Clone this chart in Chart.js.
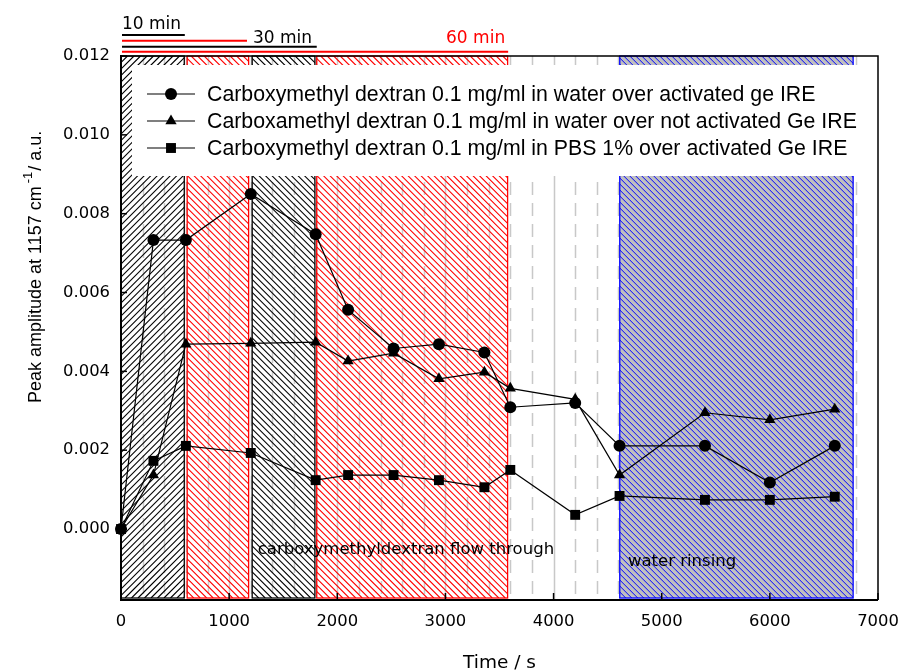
<!DOCTYPE html>
<html><head><meta charset="utf-8">
<script src="https://cdn.jsdelivr.net/npm/chart.js@4/dist/chart.umd.min.js"></script>
<style>html,body{margin:0;padding:0;background:#fff;}#wrap{width:901px;height:671px;}</style>
</head><body><div id="wrap"><canvas id="c" width="901" height="671"></canvas></div>
<script>
// ---- data ----
const timeS = [0, 300, 600, 1200, 1800, 2100, 2520, 2940, 3360, 3600, 4200, 4610, 5400, 6000, 6600];
const activatedWater = [0, 0.00733, 0.00733, 0.00850, 0.00748, 0.00556, 0.00458, 0.00469, 0.00448, 0.00309, 0.00320, 0.00211, 0.00211, 0.00118, 0.00211];
const notActivatedWater = [0, 0.00137, 0.00469, 0.00471, 0.00474, 0.00426, 0.00446, 0.00381, 0.00398, 0.00357, 0.00329, 0.00137, 0.00295, 0.00277, 0.00304];
const activatedPBS = [0, 0.00173, 0.00211, 0.00193, 0.00124, 0.00137, 0.00137, 0.00124, 0.00106, 0.00150, 0.00036, 0.00084, 0.00074, 0.00074, 0.00082];
const seriesNames = [
  'Carboxymethyl dextran 0.1 mg/ml in water over activated ge IRE',
  'Carboxamethyl dextran 0.1 mg/ml in water over not activated Ge IRE',
  'Carboxymethyl dextran 0.1 mg/ml in PBS 1% over activated Ge IRE'
];
const xTicks = [0, 1000, 2000, 3000, 4000, 5000, 6000, 7000];
const yTicks = [0, 0.002, 0.004, 0.006, 0.008, 0.010, 0.012];
const phaseStart = [0, 612, 1213, 1810, 4612];
const phaseEnd = [585, 1180, 1793, 3575, 6770];
const durationLabels = ['10 min', '', '30 min', '60 min'];
const durationEnd = [590, 1165, 1810, 3580];
const phaseLabels = ['carboxymethyldextran flow through', 'water rinsing'];
const xTitle = 'Time / s';
const yTitleMain = 'Peak amplitude at 1157 cm';
const yTitleSup = '-1';
const yTitleTail = '/ a.u.';

// ---- styles ----
const X_MIN = 0, X_MAX = 7000, Y_MIN = -0.0018, Y_MAX = 0.012;
const GRID_STEP = 200;
const phaseStyle = [
  {color: '#000000', dir: '/', step: 6.5, lw: 1.2, fill: null},
  {color: '#ff0000', dir: '\\', step: 6.5, lw: 1.1, fill: null},
  {color: '#000000', dir: '\\', step: 6.5, lw: 1.1, fill: null},
  {color: '#ff0000', dir: '\\', step: 6.5, lw: 1.1, fill: null},
  {color: '#0000ff', dir: '\\', step: 6, lw: 1.0, fill: '#c0c0c0'}
];
const durationStyle = [
  {color: '#000', y: 35},
  {color: '#ff0000', y: 40.7},
  {color: '#000', y: 46.7},
  {color: '#ff0000', y: 51.7}
];
const markerStyles = [
  {pointStyle: 'circle', radius: 6},
  {pointStyle: 'triangle', radius: 6.5},
  {pointStyle: 'rect', radius: 7}
];
const FONT_DV = '"DejaVu Sans", sans-serif';
const FONT_LS = '"Liberation Sans", Arial, sans-serif';

function drawMarker(ctx, style, r, x, y) {
  ctx.beginPath();
  if (style === 'circle') {
    ctx.arc(x, y, r, 0, Math.PI * 2);
  } else if (style === 'triangle') {
    ctx.moveTo(x, y - r);
    ctx.lineTo(x + Math.sin(2 * Math.PI / 3) * r, y - Math.cos(2 * Math.PI / 3) * r);
    ctx.lineTo(x + Math.sin(4 * Math.PI / 3) * r, y - Math.cos(4 * Math.PI / 3) * r);
    ctx.closePath();
  } else {
    const s = r * Math.SQRT1_2;
    ctx.rect(x - s, y - s, 2 * s, 2 * s);
  }
  ctx.fill();
}

function hatch(ctx, x0, y0, x1, y1, st) {
  ctx.save();
  ctx.beginPath(); ctx.rect(x0, y0, x1 - x0, y1 - y0); ctx.clip();
  if (st.fill) { ctx.fillStyle = st.fill; ctx.fillRect(x0, y0, x1 - x0, y1 - y0); }
  ctx.strokeStyle = st.color; ctx.lineWidth = st.lw;
  ctx.beginPath();
  const h = y1 - y0;
  for (let x = x0 - h - st.step; x < x1 + st.step; x += st.step) {
    if (st.dir === '/') { ctx.moveTo(x, y1); ctx.lineTo(x + h, y0); }
    else { ctx.moveTo(x, y0); ctx.lineTo(x + h, y1); }
  }
  ctx.stroke();
  ctx.restore();
  ctx.save();
  ctx.strokeStyle = st.color; ctx.lineWidth = 1.3;
  ctx.strokeRect(x0, y0, x1 - x0, y1 - y0);
  ctx.restore();
}

const decorPlugin = {
  id: 'decor',
  beforeDatasetsDraw(chart) {
    const ctx = chart.ctx, xs = chart.scales.x, ys = chart.scales.y, a = chart.chartArea;
    const top = ys.getPixelForValue(Y_MAX), bot = ys.getPixelForValue(Y_MIN);
    // grey vertical lines
    ctx.save();
    ctx.strokeStyle = '#c8c8c8'; ctx.lineWidth = 1.5;
    for (let t = GRID_STEP; t < X_MAX; t += GRID_STEP) {
      const px = Math.round(xs.getPixelForValue(t)) + 0.5;
      ctx.setLineDash(t % 1000 === 0 ? [] : [13, 8]);
      ctx.beginPath(); ctx.moveTo(px, top); ctx.lineTo(px, bot); ctx.stroke();
    }
    ctx.restore();
    // hatched phases
    phaseStart.forEach((s, i) => {
      hatch(ctx, xs.getPixelForValue(s), top, xs.getPixelForValue(phaseEnd[i]), bot - 2, phaseStyle[i]);
    });
    // legend box
    ctx.save();
    ctx.fillStyle = '#fff';
    ctx.fillRect(132, 65, a.right - 132, 111);
    const rows = [94, 121, 148];
    ctx.strokeStyle = '#000'; ctx.fillStyle = '#000'; ctx.lineWidth = 1.2;
    ctx.font = '21.3px ' + FONT_LS; ctx.textBaseline = 'middle';
    seriesNames.forEach((n, i) => {
      ctx.beginPath(); ctx.moveTo(147, rows[i]); ctx.lineTo(195, rows[i]); ctx.stroke();
      drawMarker(ctx, markerStyles[i].pointStyle, markerStyles[i].radius, 171, rows[i]);
      ctx.fillText(n, 207, rows[i] + 1);
    });
    ctx.restore();
    // frame
    ctx.save();
    ctx.strokeStyle = '#000';
    ctx.lineWidth = 1.5;
    ctx.beginPath(); ctx.moveTo(a.left, top); ctx.lineTo(a.right, top); ctx.lineTo(a.right, bot); ctx.stroke();
    ctx.lineWidth = 2;
    ctx.beginPath(); ctx.moveTo(a.left, top - 1); ctx.lineTo(a.left, bot); ctx.lineTo(a.right, bot); ctx.stroke();
    // ticks inward
    ctx.lineWidth = 1.5;
    yTicks.forEach(v => { const py = ys.getPixelForValue(v); ctx.beginPath(); ctx.moveTo(a.left, py); ctx.lineTo(a.left + 6, py); ctx.stroke(); });
    xTicks.forEach(v => { const px = xs.getPixelForValue(v); ctx.beginPath(); ctx.moveTo(px, bot); ctx.lineTo(px, bot - 7); ctx.stroke(); });
    ctx.restore();
  },
  afterDraw(chart) {
    const ctx = chart.ctx, xs = chart.scales.x, ys = chart.scales.y, a = chart.chartArea;
    const x0 = xs.getPixelForValue(0);
    ctx.save();
    durationEnd.forEach((e, i) => {
      const st = durationStyle[i];
      ctx.strokeStyle = st.color; ctx.lineWidth = 2;
      ctx.beginPath(); ctx.moveTo(x0 + 1, st.y); ctx.lineTo(xs.getPixelForValue(e), st.y); ctx.stroke();
    });
    ctx.font = '17px ' + FONT_DV; ctx.textBaseline = 'alphabetic';
    ctx.fillStyle = '#000'; ctx.textAlign = 'left';
    ctx.fillText(durationLabels[0], x0 + 1, 29);
    ctx.fillText(durationLabels[2], xs.getPixelForValue(durationEnd[1]) + 6, 43);
    ctx.fillStyle = '#ff0000'; ctx.textAlign = 'right';
    ctx.fillText(durationLabels[3], xs.getPixelForValue(durationEnd[3]) - 3, 43);
    ctx.fillStyle = '#000'; ctx.textAlign = 'left';
    ctx.font = '16.5px ' + FONT_DV;
    ctx.fillText(phaseLabels[0], xs.getPixelForValue(1265), ys.getPixelForValue(-0.00064));
    ctx.fillText(phaseLabels[1], xs.getPixelForValue(4688), ys.getPixelForValue(-0.00093));
    ctx.font = '18.5px ' + FONT_DV; ctx.textAlign = 'center';
    ctx.fillText(xTitle, (a.left + a.right) / 2, 668);
    ctx.translate(41, 403); ctx.rotate(-Math.PI / 2);
    ctx.textAlign = 'left';
    ctx.font = '18px ' + FONT_LS;
    ctx.fillText(yTitleMain, 0, 0);
    let w = ctx.measureText(yTitleMain).width + 3;
    ctx.font = '13px ' + FONT_LS;
    ctx.fillText(yTitleSup, w, -9);
    w += ctx.measureText(yTitleSup).width + 1;
    ctx.font = '18px ' + FONT_LS;
    ctx.fillText(yTitleTail, w, 0);
    ctx.restore();
  }
};

const seriesValues = [activatedWater, notActivatedWater, activatedPBS];
const datasets = seriesValues.map((vals, i) => ({
  label: seriesNames[i],
  data: timeS.map((t, j) => ({x: t, y: vals[j]})),
  borderColor: '#000', backgroundColor: '#000', borderWidth: 1.2,
  pointStyle: markerStyles[i].pointStyle, pointRadius: markerStyles[i].radius,
  pointBackgroundColor: '#000', pointBorderColor: '#000', pointBorderWidth: 0,
  tension: 0, fill: false, clip: false
}));

new Chart(document.getElementById('c'), {
  type: 'line',
  data: {datasets},
  options: {
    responsive: false, animation: false, devicePixelRatio: 1,
    layout: {padding: {left: 0, right: 23, top: 56, bottom: 0}},
    plugins: {legend: {display: false}, tooltip: {enabled: false}, title: {display: false}},
    scales: {
      x: {
        type: 'linear', min: X_MIN, max: X_MAX,
        afterBuildTicks: s => { s.ticks = xTicks.map(v => ({value: v})); },
        afterFit: s => { s.height = 71; s.paddingLeft = 0; s.paddingRight = 0; },
        grid: {display: false, drawTicks: false}, border: {display: false},
        ticks: {color: '#000', font: {family: FONT_DV, size: 16.4}, padding: 12, maxRotation: 0, autoSkip: false,
          callback: v => String(v)}
      },
      y: {
        type: 'linear', min: Y_MIN, max: Y_MAX,
        afterBuildTicks: s => { s.ticks = yTicks.map(v => ({value: v})); },
        afterFit: s => { s.width = 121; s.paddingTop = 0; s.paddingBottom = 0; },
        grid: {display: false, drawTicks: false}, border: {display: false},
        ticks: {color: '#000', font: {family: FONT_DV, size: 16.4}, padding: 11, autoSkip: false,
          callback: v => Number(v).toFixed(3)}
      }
    }
  },
  plugins: [decorPlugin]
});
</script></body></html>
